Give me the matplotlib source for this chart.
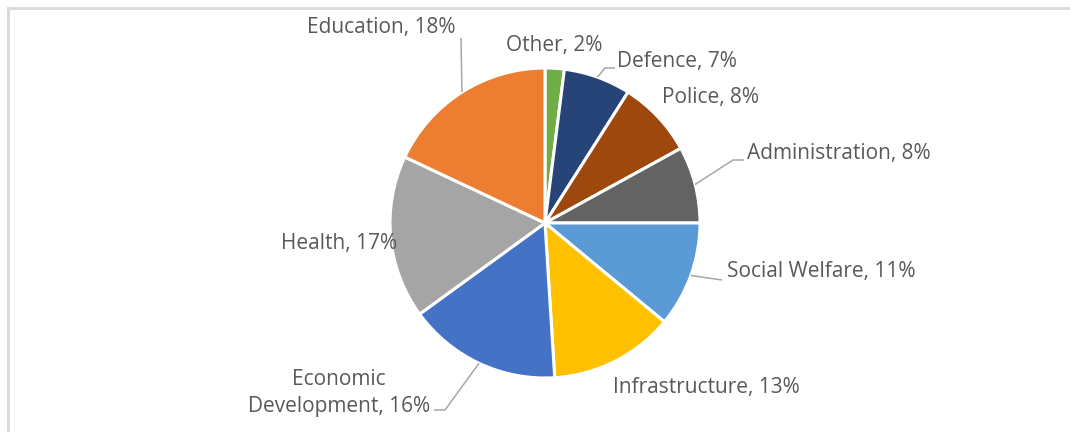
import matplotlib.pyplot as plt
from matplotlib.lines import Line2D
import numpy as np

# Budget shares, drawn clockwise from 12 o'clock
categories = ["Other", "Defence", "Police", "Administration", "Social Welfare",
              "Infrastructure", "Economic\nDevelopment", "Health", "Education"]
shares = [2, 7, 8, 8, 11, 13, 16, 17, 18]
colours = ["#70AD47", "#264478", "#9E480E", "#636363", "#5B9BD5",
           "#FFC000", "#4472C4", "#A5A5A5", "#ED7D31"]

W, H = 1070, 432
fig = plt.figure(figsize=(W / 100, H / 100), dpi=100)
ax = fig.add_axes([0, 0, 1, 1])
ax.set_xlim(0, W)
ax.set_ylim(0, H)
ax.set_aspect("equal")
ax.axis("off")

wedges, _ = ax.pie(shares, colors=colours, startangle=90, counterclock=False,
                   center=(545, H - 223), radius=155,
                   wedgeprops=dict(edgecolor="white", linewidth=2.2))
ax.set_xlim(0, W)
ax.set_ylim(0, H)

# label placement (pixel coords, origin top-left): x, y, ha, elbow points
layout = {
    "Other": (554, 45, "center", None),
    "Defence": (617, 61, "left", [(605, 68), (615, 68)]),
    "Police": (662, 98, "left", None),
    "Administration": (747, 153, "left", [(733, 160), (744, 160)]),
    "Social Welfare": (727, 272, "left", [(722, 280)]),
    "Infrastructure": (613, 387, "left", None),
    "Economic\nDevelopment": (339, 393, "center", [(445, 410), (434, 410)]),
    "Health": (339, 243, "center", None),
    "Education": (381, 28, "center", [(461, 38)]),
}

font = dict(family=["Open Sans", "DejaVu Sans"], size=15, color="#595959",
            fontstretch="normal", fontweight="normal")
for w, name, pct in zip(wedges, categories, shares):
    x, y, ha, elbow = layout[name]
    ax.text(x, H - y, f"{name}, {pct}%", ha=ha, va="center",
            linespacing=1.4, **font)
    if elbow:
        mid = np.deg2rad((w.theta1 + w.theta2) / 2)
        cx, cy = w.center
        px = [cx + w.r * np.cos(mid)] + [p[0] for p in elbow]
        py = [cy + w.r * np.sin(mid)] + [H - p[1] for p in elbow]
        ax.plot(px, py, color="#a6a6a6", lw=1.1, solid_capstyle="butt")

# chart frame (top and left edges)
fig.add_artist(Line2D([8 / W, 1], [1 - 8 / H, 1 - 8 / H], color="#d9d9d9", lw=2))
fig.add_artist(Line2D([8 / W, 8 / W], [0, 1 - 8 / H], color="#d9d9d9", lw=2))

fig.savefig("out.png", dpi=100)
